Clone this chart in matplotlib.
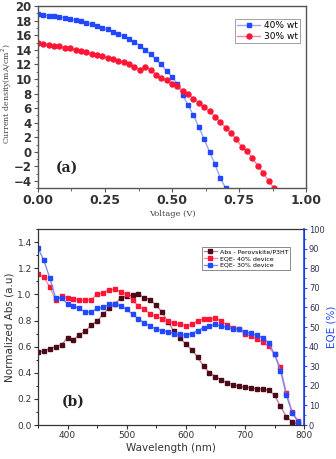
import numpy as np
import matplotlib.pyplot as plt
from matplotlib.ticker import MultipleLocator

# panel (a): J-V curves
v40 = np.round(np.arange(0, 0.701, 0.02), 2)
j40 = [18.9, 18.8, 18.7, 18.6, 18.5, 18.4, 18.2, 18.1, 17.9, 17.7, 17.5, 17.3,
       17.0, 16.8, 16.5, 16.2, 15.9, 15.5, 15.1, 14.6, 14.0, 13.4, 12.7, 12.0,
       11.1, 10.3, 9.3, 7.8, 6.4, 5.0, 3.4, 1.7, 0.0, -1.7, -3.6, -5.0]
v30 = np.round(np.arange(0, 0.881, 0.02), 2)
j30 = [14.9, 14.8, 14.7, 14.6, 14.5, 14.3, 14.2, 14.0, 13.9, 13.7, 13.5, 13.3,
       13.1, 12.9, 12.7, 12.5, 12.3, 12.0, 11.7, 11.3, 11.7, 11.3, 10.6, 10.2,
       9.8, 9.3, 9.0, 8.4, 7.9, 7.3, 6.7, 6.1, 5.6, 4.8, 4.1, 3.3, 2.6, 1.7,
       0.7, 0.1, -0.9, -1.9, -2.9, -4.0, -5.0]

# panel (b): absorbance and EQE
wl = np.arange(350, 791, 10)
absorb = [0.56, 0.565, 0.585, 0.60, 0.615, 0.667, 0.654, 0.69, 0.718, 0.764,
          0.795, 0.846, 0.897, 0.923, 0.975, 0.985, 0.995, 1.0, 0.975, 0.96,
          0.915, 0.864, 0.787, 0.718, 0.667, 0.62, 0.577, 0.52, 0.45, 0.40,
          0.37, 0.345, 0.325, 0.31, 0.295, 0.29, 0.285, 0.278, 0.275, 0.268,
          0.228, 0.144, 0.063, 0.025, 0.005]
eqe40 = [77.0, 75.5, 70.4, 63.6, 65.8, 65.0, 64.4, 64.0, 63.6, 64.0, 66.7,
         67.5, 69.0, 69.3, 68.0, 66.7, 63.7, 60.7, 59.0, 56.7, 55.5, 54.0,
         53.0, 52.0, 51.5, 50.7, 51.3, 53.3, 54.1, 54.1, 54.5, 53.0, 51.0,
         49.7, 49.2, 46.4, 45.4, 43.8, 42.5, 40.1, 36.0, 29.5, 16.5, 6.8, 2.0]
eqe30 = [90.3, 84.0, 75.0, 64.6, 64.6, 62.0, 60.7, 59.5, 57.6, 57.6, 59.5,
         60.0, 61.5, 61.5, 60.7, 59.0, 56.4, 54.3, 52.0, 50.4, 49.0, 48.2,
         47.5, 46.7, 46.2, 45.8, 46.7, 48.2, 49.6, 50.4, 51.3, 50.5, 49.8,
         49.2, 48.8, 47.6, 46.8, 45.8, 44.6, 42.0, 36.0, 27.8, 15.2, 5.9, 1.7]

blue = '#2248ff'
red = '#ff1535'
dark = '#4a0a18'

fig = plt.figure(figsize=(3.36, 4.59), dpi=100)

ax1 = fig.add_axes([0.113, 0.590, 0.798, 0.3965])
ax1.plot(v40, j40, '-s', color='#9aa8f5', mfc=blue, mec=blue, ms=3.2, lw=1.0,
         label='40% wt')
ax1.plot(v30, j30, '-o', color='#f7889c', mfc=red, mec=red, ms=3.6, lw=1.0,
         label='30% wt')
ax1.set_xlim(0, 1.0)
ax1.set_ylim(-5, 20)
ax1.xaxis.set_major_locator(MultipleLocator(0.25))
ax1.xaxis.set_minor_locator(MultipleLocator(0.125))
ax1.yaxis.set_major_locator(MultipleLocator(2))
ax1.yaxis.set_minor_locator(MultipleLocator(1))
ax1.xaxis.set_major_formatter(plt.FuncFormatter(lambda x, p: '%.2f' % x))
ax1.tick_params(axis='both', labelsize=8.5, color='#555555', length=3,
                width=0.8, pad=1.5, labelcolor='#333333')
ax1.tick_params(axis='x', labelsize=9)
ax1.tick_params(which='minor', length=1.8, color='#555555')
for lab in ax1.get_xticklabels() + ax1.get_yticklabels():
    lab.set_fontweight('bold')
for s in ax1.spines.values():
    s.set_color('#555555')
    s.set_linewidth(1.0)
ax1.set_xlabel('Voltage (V)', fontsize=6, family='DejaVu Serif',
               color='#444444', labelpad=2)
fig.text(0.02, 0.795, 'Current density(mA/cm$^2$)', fontsize=5.6,
         family='DejaVu Serif', color='#444444', rotation=90,
         ha='center', va='center')
ax1.text(0.065, 0.09, '(a)', transform=ax1.transAxes, fontsize=10,
         fontweight='bold', family='DejaVu Serif', color='#222222')
leg1 = ax1.legend(loc='upper right', bbox_to_anchor=(0.995, 0.955),
                  fontsize=6.5, frameon=True, fancybox=False,
                  edgecolor='#777777', borderpad=0.25, handlelength=2.6,
                  labelspacing=0.2, handletextpad=0.4)
leg1.get_frame().set_linewidth(0.6)

ax2 = fig.add_axes([0.113, 0.074, 0.792, 0.427])
ax2.plot(wl, absorb, '-s', color='#c4788a', mfc=dark, mec=dark, ms=3.0,
         lw=0.9, label='Abs - Perovskite/P3HT')
ax3 = ax2.twinx()
l2, = ax3.plot(wl, eqe40, '-s', color='#f7889c', mfc=red, mec=red, ms=3.0,
               lw=0.9, label='EQE- 40% device')
l3, = ax3.plot(wl, eqe30, '-s', color='#6f86f5', mfc=blue, mec=blue, ms=3.0,
               lw=0.9, label='EQE- 30% device')
ax2.set_xlim(350, 800)
ax2.set_ylim(0, 1.5)
ax3.set_ylim(0, 100)
ax2.xaxis.set_major_locator(MultipleLocator(100))
ax2.xaxis.set_minor_locator(MultipleLocator(50))
ax2.yaxis.set_major_locator(MultipleLocator(0.2))
ax2.yaxis.set_minor_locator(MultipleLocator(0.1))
ax3.yaxis.set_major_locator(MultipleLocator(10))
ax3.yaxis.set_minor_locator(MultipleLocator(5))
ax2.yaxis.set_major_formatter(plt.FuncFormatter(lambda x, p: '%.1f' % x))
ax2.tick_params(axis='both', labelsize=6.5, color='#333333', length=3,
                width=0.8, pad=1.5, labelcolor='#333333')
ax2.tick_params(which='minor', length=1.8)
ax3.tick_params(axis='y', labelsize=6, color=blue, length=2.5, width=0.8,
                pad=1, labelcolor='#333355')
ax3.tick_params(which='minor', length=1.5, color=blue)
for s in ['left', 'bottom', 'top']:
    ax3.spines[s].set_color('#333333')
ax3.spines['right'].set_color(blue)
ax3.spines['right'].set_linewidth(1.2)
ax2.set_xlabel('Wavelength (nm)', fontsize=7.5, color='#333333', labelpad=2)
ax2.set_ylabel('Normalized Abs (a.u)', fontsize=7.5, color='#333333',
               labelpad=2)
ax3.set_ylabel('EQE (%)', fontsize=7.5, color=blue, labelpad=1)
ax2.text(0.09, 0.1, '(b)', transform=ax2.transAxes, fontsize=10,
         fontweight='bold', family='DejaVu Serif', color='#222222')
h1, lb1 = ax2.get_legend_handles_labels()
leg2 = ax3.legend(h1 + [l2, l3], lb1 + ['EQE- 40% device', 'EQE- 30% device'],
                  loc='upper right', bbox_to_anchor=(0.96, 0.925), fontsize=4.5,
                  frameon=True, fancybox=False, edgecolor='#555555',
                  borderpad=0.3, handlelength=2.2, labelspacing=0.25,
                  handletextpad=0.4)
leg2.get_frame().set_linewidth(0.6)

fig.savefig('out.png', dpi=100)
